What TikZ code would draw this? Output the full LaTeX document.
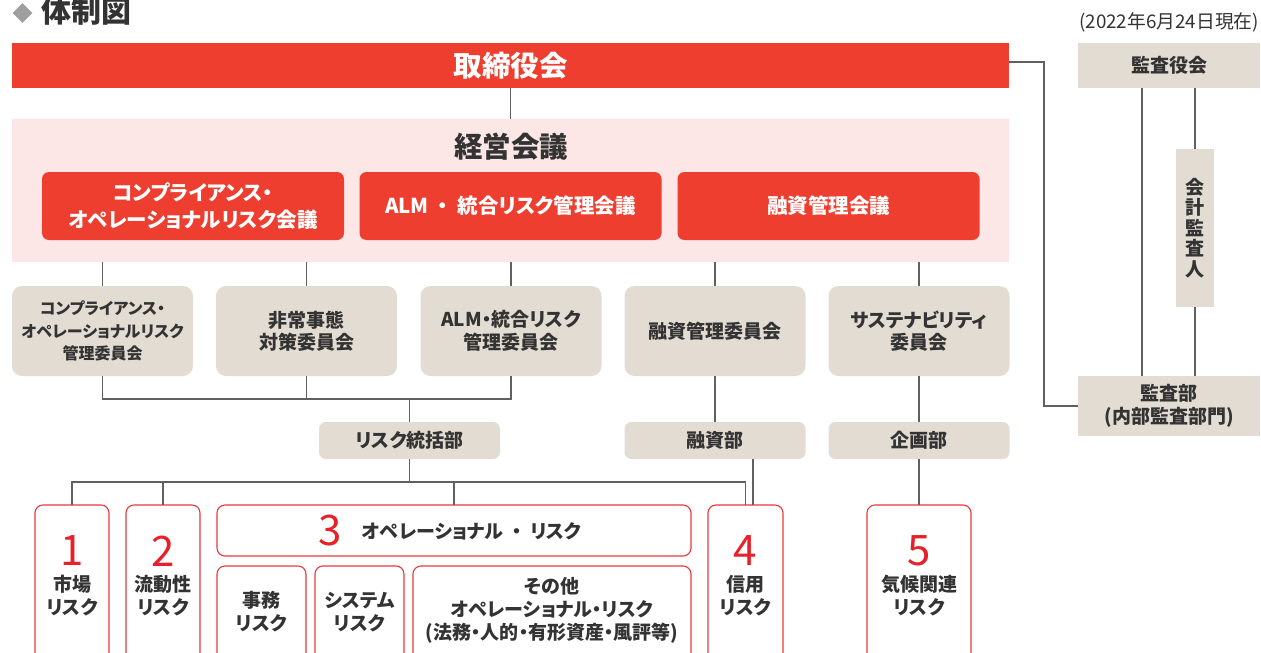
\documentclass[tikz,border=0pt]{standalone}
\usepackage{fontspec}
\setmainfont{Noto Sans CJK JP}[RawFeature=+palt]
\usetikzlibrary{calc,shapes.geometric}
\definecolor{barred}{HTML}{EE3E2F}
\definecolor{numred}{HTML}{E8202A}
\definecolor{edgered}{HTML}{E8383D}
\definecolor{beige}{HTML}{E2DCD2}
\definecolor{pinkbg}{HTML}{FCE6E6}
\definecolor{ink}{HTML}{333333}
\definecolor{wire}{HTML}{606060}
\newcommand{\wdot}{\hspace{0.45em}・\hspace{0.45em}}
\tikzset{
  base/.style={inner sep=0pt, outer sep=0pt, align=center, text=ink},
  redbar/.style={base, fill=barred, text=white, font=\fontsize{28.5}{32}\selectfont\bfseries},
  redbox/.style={base, fill=barred, text=white, rounded corners=7pt, font=\fontsize{20.5}{27}\selectfont\bfseries},
  beigebox/.style={base, fill=beige, font=\fontsize{19}{22.5}\selectfont\bfseries},
  combox/.style={beigebox, rounded corners=10pt},
  deptbox/.style={beigebox, rounded corners=7pt},
  riskbox/.style={base, draw=edgered, line width=1.1pt, fill=white, rounded corners=8pt},
  risktext/.style={base, font=\fontsize{19}{23}\selectfont\bfseries},
  num/.style={base, text=numred, font=\fontsize{42}{42}\selectfont},
  wirestyle/.style={draw=wire, line width=1.1pt}
}
\begin{document}
\begin{tikzpicture}[x=1pt,y=-1pt]
\useasboundingbox (0,0) rectangle (1261,653);
% title
\node[diamond, fill=gray!75, minimum width=20pt, minimum height=20pt, inner sep=0pt] (diam) at (22.5,13) {};
\node[base, anchor=west, font=\fontsize{30}{30}\selectfont\bfseries] (title) at (41.5,11) {体制図};
\node[base, anchor=east, font=\fontsize{18.8}{19}\selectfont] (date) at (1259,22) {(2022年6月24日現在)};
% top
\node[redbar, minimum width=997pt, minimum height=45pt] (board) at (510.5,65.5) {取締役会};
\node[beigebox, minimum width=182pt, minimum height=45pt] (kansayaku) at (1169,65.5) {監査役会};
\node[beigebox, minimum width=182pt, minimum height=60pt] (kansabu) at (1169,406) {監査部\\(内部監査部門)};
\node[beigebox, minimum width=38pt, minimum height=158pt, font=\fontsize{19}{20.5}\selectfont\bfseries] (kaikei) at (1195,228) {会\\計\\監\\査\\人};
% management
\node[base, fill=pinkbg, minimum width=997pt, minimum height=143pt] (pink) at (510.5,190.5) {};
\node[base, font=\fontsize{28.5}{32}\selectfont\bfseries] (keiei) at (511,147) {経営会議};
\node[redbox, minimum width=302pt, minimum height=68pt] (r1) at (193,206) {コンプライアンス・\\オペレーショナルリスク会議};
\node[redbox, minimum width=302pt, minimum height=68pt] (r2) at (510.5,206) {ALM\wdot 統合リスク管理会議};
\node[redbox, minimum width=302pt, minimum height=68pt] (r3) at (828.5,206) {融資管理会議};
% committees
\node[combox, minimum width=181pt, minimum height=90pt, font=\fontsize{16}{22.5}\selectfont\bfseries] (c1) at (102.5,331) {コンプライアンス・\\オペレーショナルリスク\\管理委員会};
\node[combox, minimum width=181pt, minimum height=90pt] (c2) at (306.5,331) {非常事態\\対策委員会};
\node[combox, minimum width=181pt, minimum height=90pt] (c3) at (511,331) {ALM・統合リスク\\管理委員会};
\node[combox, minimum width=181pt, minimum height=90pt] (c4) at (715,331) {融資管理委員会};
\node[combox, minimum width=181pt, minimum height=90pt] (c5) at (919,331) {サステナビリティ\\委員会};
% departments
\node[deptbox, minimum width=181pt, minimum height=37pt] (risk) at (409.5,440.5) {リスク統括部};
\node[deptbox, minimum width=181pt, minimum height=37pt] (yushi) at (715,440.5) {融資部};
\node[deptbox, minimum width=181pt, minimum height=37pt] (kikaku) at (919,440.5) {企画部};
% risk boxes
\node[riskbox, minimum width=74pt, minimum height=170pt] (b1) at (72,590) {};
\node[riskbox, minimum width=74pt, minimum height=170pt] (b2) at (163,590) {};
\node[riskbox, minimum width=474pt, minimum height=51pt] (b3) at (454,530.5) {};
\node[riskbox, minimum width=89pt, minimum height=110pt] (b31) at (261.5,621) {};
\node[riskbox, minimum width=89pt, minimum height=110pt] (b32) at (359.5,621) {};
\node[riskbox, minimum width=278pt, minimum height=110pt] (b33) at (552,621) {};
\node[riskbox, minimum width=75pt, minimum height=170pt] (b4) at (745.5,590) {};
\node[riskbox, minimum width=104pt, minimum height=170pt] (b5) at (919,590) {};
% risk labels
\node[num] (n1) at (72,551) {1};
\node[risktext] (t1) at (72,596) {市場\\リスク};
\node[num] (n2) at (163,551) {2};
\node[risktext] (t2) at (163,596) {流動性\\リスク};
\node[num] (n3) at (330,531) {3};
\node[risktext, anchor=west] (t3) at (362,531) {オペレーショナル\wdot リスク};
\node[risktext] (t31) at (261.5,612) {事務\\リスク};
\node[risktext] (t32) at (359.5,612) {システム\\リスク};
\node[risktext] (t33) at (552,610) {その他\\オペレーショナル・リスク\\(法務・人的・有形資産・風評等)};
\node[num] (n4) at (745.5,551) {4};
\node[risktext] (t4) at (745.5,596) {信用\\リスク};
\node[num] (n5) at (919,551) {5};
\node[risktext] (t5) at (919,596) {気候関連\\リスク};
% connectors
\coordinate (corner) at (1044,62);
\draw[wirestyle] (board.east |- corner) -- (corner) |- (kansabu.west);
\draw[wirestyle] ($(kansayaku.south)+(-27,0)$) -- ($(kansabu.north)+(-27,0)$);
\draw[wirestyle] (kansayaku.south -| kaikei.north) -- (kaikei.north);
\draw[wirestyle] (kaikei.south) -- (kansabu.north -| kaikei.south);
\draw[wirestyle] (board.south) -- (pink.north -| board.south);
\foreach \c in {c1,c2,c3,c4,c5}{
  \draw[wirestyle] (\c.north |- pink.south) -- (\c.north);
}
\coordinate (bus1) at (409.5,399);
\draw[wirestyle] (c1.south) -- (c1.south |- bus1) -- (c3.south |- bus1) -- (c3.south);
\draw[wirestyle] (c2.south) -- (c2.south |- bus1);
\draw[wirestyle] (bus1) -- (risk.north);
\draw[wirestyle] (c4.south) -- (yushi.north);
\draw[wirestyle] (c5.south) -- (kikaku.north);
\coordinate (bus2) at (409.5,482);
\draw[wirestyle] (risk.south) -- (bus2);
\draw[wirestyle] (b1.north) -- (b1.north |- bus2) -- (b4.north |- bus2) -- (b4.north);
\draw[wirestyle] (b2.north) -- (b2.north |- bus2);
\draw[wirestyle] (b3.north) -- (b3.north |- bus2);
\draw[wirestyle] ([xshift=38pt]yushi.south) -- ([xshift=38pt]yushi.south |- b4.north);
\draw[wirestyle] (kikaku.south) -- (b5.north);
\end{tikzpicture}
\end{document}
